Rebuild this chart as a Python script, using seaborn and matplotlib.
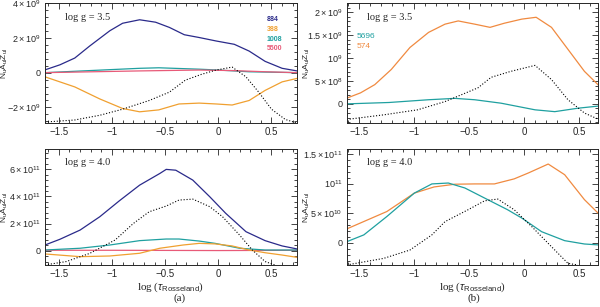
import matplotlib
matplotlib.use("Agg")
import matplotlib.pyplot as plt
import seaborn as sns
from matplotlib.ticker import FixedLocator, AutoMinorLocator

sns.set_style("ticks")
plt.rcParams['font.family'] = ['Liberation Sans', 'DejaVu Sans']
plt.rcParams['mathtext.fontset'] = 'custom'
plt.rcParams['mathtext.rm'] = 'Liberation Sans'
plt.rcParams['mathtext.it'] = 'Liberation Sans:italic'

# ---- data: (a) log g = 3.5, units of 1e9 ----
a1_x = [-1.63, -1.49, -1.35, -1.21, -1.02, -0.90, -0.74, -0.59, -0.46, -0.32, -0.18, -0.02, 0.15, 0.29, 0.44, 0.60, 0.74]
a1_884 = [0.16, 0.45, 0.84, 1.53, 2.41, 2.84, 3.04, 2.90, 2.60, 2.18, 2.02, 1.82, 1.63, 1.24, 0.65, 0.25, 0.10]
a1_388_x = [-1.63, -1.35, -1.115, -0.90, -0.74, -0.56, -0.37, -0.18, -0.02, 0.13, 0.29, 0.44, 0.60, 0.74]
a1_388 = [-0.24, -0.82, -1.51, -2.06, -2.25, -2.14, -1.80, -1.75, -1.80, -1.86, -1.60, -1.02, -0.53, -0.33]
a1_1008_x = [-1.63, -1.10, -0.74, -0.56, -0.18, 0.0, 0.29, 0.74]
a1_1008 = [0.0, 0.15, 0.25, 0.28, 0.20, 0.15, 0.05, 0.0]
a1_5500_x = [-1.63, -1.10, -0.74, -0.18, 0.13, 0.45, 0.74]
a1_5500 = [0.0, 0.06, 0.10, 0.15, 0.12, 0.05, 0.0]
a1_tot_x = [-1.63, -1.35, -1.115, -0.90, -0.65, -0.46, -0.31, -0.16, -0.02, 0.13, 0.26, 0.38, 0.50, 0.63, 0.74]
a1_tot = [-2.84, -2.72, -2.45, -2.10, -1.60, -1.12, -0.43, -0.10, 0.15, 0.32, -0.24, -1.12, -2.10, -2.69, -2.90]

# ---- data: (b) log g = 3.5, units of 1e9 ----
b1_x = [-1.615, -1.49, -1.36, -1.21, -1.04, -0.87, -0.72, -0.60, -0.45, -0.31, -0.18, -0.02, 0.11, 0.25, 0.40, 0.55, 0.69]
b1_574 = [0.125, 0.24, 0.42, 0.75, 1.23, 1.56, 1.74, 1.81, 1.74, 1.67, 1.76, 1.85, 1.89, 1.67, 1.19, 0.71, 0.38]
b1_5696_x = [-1.615, -1.23, -0.87, -0.63, -0.45, -0.21, 0.10, 0.28, 0.49, 0.69]
b1_5696 = [0.0, 0.03, 0.09, 0.12, 0.09, 0.015, -0.13, -0.17, -0.095, -0.045]
b1_tot_x = [-1.615, -1.28, -0.97, -0.72, -0.57, -0.42, -0.30, -0.12, 0.10, 0.25, 0.40, 0.55, 0.69]
b1_tot = [-0.34, -0.24, -0.13, 0.05, 0.20, 0.35, 0.58, 0.71, 0.84, 0.53, 0.09, -0.20, -0.35]

# ---- data: (a) log g = 4.0, units of 1e11 ----
a2_x = [-1.63, -1.49, -1.30, -1.115, -0.93, -0.74, -0.55, -0.49, -0.40, -0.24, -0.08, 0.07, 0.26, 0.44, 0.60, 0.74]
a2_884 = [0.42, 0.84, 1.52, 2.50, 3.68, 4.83, 5.69, 5.99, 5.93, 5.20, 3.97, 2.75, 1.40, 0.74, 0.35, 0.13]
a2_388_x = [-1.63, -1.30, -1.02, -0.74, -0.55, -0.33, -0.18, -0.03, 0.13, 0.29, 0.44, 0.60, 0.74]
a2_388 = [-0.24, -0.44, -0.39, -0.19, 0.18, 0.42, 0.54, 0.50, 0.35, 0.05, -0.15, -0.32, -0.49]
a2_1008_x = [-1.63, -1.30, -1.02, -0.74, -0.49, -0.37, -0.18, -0.03, 0.20, 0.44, 0.74]
a2_1008 = [0.05, 0.18, 0.42, 0.74, 0.86, 0.86, 0.71, 0.54, 0.18, 0.05, 0.05]
a2_5500_x = [-1.63, -1.0, -0.49, 0.0, 0.44, 0.74]
a2_5500 = [0.03, 0.03, 0.02, 0.01, 0.02, 0.03]
a2_tot_x = [-1.63, -1.43, -1.21, -0.97, -0.80, -0.65, -0.49, -0.37, -0.24, -0.08, 0.04, 0.20, 0.32, 0.44, 0.53]
a2_tot = [-1.05, -0.80, -0.20, 0.79, 2.00, 2.87, 3.29, 3.73, 3.80, 3.24, 2.50, 1.15, 0.05, -0.80, -1.05]

# ---- data: (b) log g = 4.0, units of 1e10 ----
b2_574_x = [-1.615, -1.25, -1.00, -0.82, -0.63, -0.45, -0.27, -0.09, 0.04, 0.22, 0.37, 0.55, 0.69]
b2_574 = [2.37, 5.3, 8.4, 9.44, 9.9, 9.95, 9.95, 10.8, 11.8, 13.3, 11.5, 7.3, 4.75]
b2_5696_x = [-1.615, -1.46, -1.25, -1.00, -0.84, -0.69, -0.54, -0.33, -0.15, -0.02, 0.16, 0.37, 0.55, 0.69]
b2_5696 = [0.22, 1.36, 4.46, 8.4, 9.95, 10.1, 9.27, 7.29, 5.6, 4.19, 1.9, 0.39, -0.17, -0.34]
b2_tot_x = [-1.615, -1.28, -1.04, -0.84, -0.72, -0.51, -0.36, -0.24, -0.09, 0.07, 0.25, 0.40, 0.49]
b2_tot = [-3.7, -2.6, -1.19, 1.36, 3.6, 5.6, 7.1, 7.4, 5.6, 2.76, -0.63, -3.44, -3.7]

c_navy = '#2a2a8a'
c_orange_a = '#f0a030'
c_orange_b = '#f08a40'
c_teal = '#1fa0a0'
c_pink = '#e85a78'

fig = plt.figure(figsize=(6.0, 3.07), dpi=100)
ax_a1 = fig.add_axes([0.075, 0.599, 0.420, 0.391])
ax_b1 = fig.add_axes([0.578, 0.599, 0.418, 0.391])
ax_a2 = fig.add_axes([0.075, 0.137, 0.420, 0.378])
ax_b2 = fig.add_axes([0.578, 0.137, 0.418, 0.378])


def line(ax, x, y, scale, color, ls='-', lw=0.9):
    sns.lineplot(x=x, y=[v * scale for v in y], ax=ax, color=color,
                 linestyle=ls, linewidth=lw, sort=False)


line(ax_a1, a1_1008_x, a1_1008, 1e9, c_teal)
line(ax_a1, a1_5500_x, a1_5500, 1e9, c_pink)
line(ax_a1, a1_x, a1_884, 1e9, c_navy)
line(ax_a1, a1_388_x, a1_388, 1e9, c_orange_a)
line(ax_a1, a1_tot_x, a1_tot, 1e9, 'black', ':', 0.8)

line(ax_b1, b1_x, b1_574, 1e9, c_orange_b)
line(ax_b1, b1_5696_x, b1_5696, 1e9, c_teal)
line(ax_b1, b1_tot_x, b1_tot, 1e9, 'black', ':', 0.8)

line(ax_a2, a2_5500_x, a2_5500, 1e11, c_pink)
line(ax_a2, a2_1008_x, a2_1008, 1e11, c_teal)
line(ax_a2, a2_388_x, a2_388, 1e11, c_orange_a)
line(ax_a2, a2_x, a2_884, 1e11, c_navy)
line(ax_a2, a2_tot_x, a2_tot, 1e11, 'black', ':', 0.8)

line(ax_b2, b2_574_x, b2_574, 1e10, c_orange_b)
line(ax_b2, b2_5696_x, b2_5696, 1e10, c_teal)
line(ax_b2, b2_tot_x, b2_tot, 1e10, 'black', ':', 0.8)

ylabel = r'N$_{\rm u}$A$_{\rm ul}$Z$_{\rm ul}$'
setup = [
    (ax_a1, (-1.63, 0.74), (-2.9e9, 4.0e9), [-2e9, 0, 2e9, 4e9],
     [r'$-2\times10^9$', '0', r'$2\times10^9$', r'$4\times10^9$'], 'log g = 3.5', -0.14),
    (ax_b1, (-1.615, 0.67), (-4.2e8, 2.2e9), [0, 5e8, 1e9, 1.5e9, 2e9],
     ['0', r'$5\times10^8$', r'$10^9$', r'$1.5\times10^9$', r'$2\times10^9$'], 'log g = 3.5', -0.14),
    (ax_a2, (-1.63, 0.74), (-1.05e11, 7.5e11), [0, 2e11, 4e11, 6e11],
     ['0', r'$2\times10^{11}$', r'$4\times10^{11}$', r'$6\times10^{11}$'], 'log g = 4.0', -0.14),
    (ax_b2, (-1.615, 0.67), (-3.7e10, 1.585e11), [0, 5e10, 1e11, 1.5e11],
     ['0', r'$5\times10^{10}$', r'$10^{11}$', r'$1.5\times10^{11}$'], 'log g = 4.0', -0.14),
]
for ax, xl, yl, yt, ytl, title, lx in setup:
    ax.set_xlim(*xl)
    ax.set_ylim(*yl)
    ax.xaxis.set_major_locator(FixedLocator([-1.5, -1, -0.5, 0, 0.5]))
    ax.set_xticklabels(['\u22121.5', '\u22121', '\u22120.5', '0', '0.5'])
    ax.xaxis.set_minor_locator(AutoMinorLocator(5))
    ax.yaxis.set_major_locator(FixedLocator(yt))
    ax.set_yticklabels(ytl)
    ax.yaxis.set_minor_locator(AutoMinorLocator(5))
    ax.tick_params(which='both', direction='in', top=True, right=True,
                   labelsize=6.5, width=0.6, pad=3)
    ax.tick_params(axis='x', labelsize=7)
    ax.tick_params(which='major', length=4)
    ax.tick_params(which='minor', length=2)
    for s in ax.spines.values():
        s.set_linewidth(0.7)
    ax.set_ylabel(ylabel, fontsize=6)
    ax.yaxis.set_label_coords(lx, 0.5)
    ax.text(0.08, 0.92, title, transform=ax.transAxes, fontsize=7.5,
            family='Liberation Serif', va='top')

for ax in (ax_a2, ax_b2):
    ax.set_xlabel(r'log ($\tau_{\rm Rosseland}$)', fontsize=8,
                  family='Liberation Serif', labelpad=1)
for ax in (ax_a1, ax_b1):
    ax.set_xlabel('')

# colored labels
for i, (lab, col) in enumerate([('884', c_navy), ('388', c_orange_a),
                                ('1008', c_teal), ('5500', c_pink)]):
    ax_a1.text(0.88, 0.86 - i * 0.08, lab, color=col, fontsize=5,
               fontweight='bold', transform=ax_a1.transAxes, va='center')
for i, (lab, col) in enumerate([('5696', c_teal), ('574', c_orange_b)]):
    ax_b1.text(0.04, 0.72 - i * 0.08, lab, color=col, fontsize=6,
               transform=ax_b1.transAxes, va='center')

fig.text(0.30, 0.02, '(a)', fontsize=8, family='Liberation Serif', ha='center')
fig.text(0.79, 0.02, '(b)', fontsize=8, family='Liberation Serif', ha='center')

fig.savefig('out.png', dpi=100)
